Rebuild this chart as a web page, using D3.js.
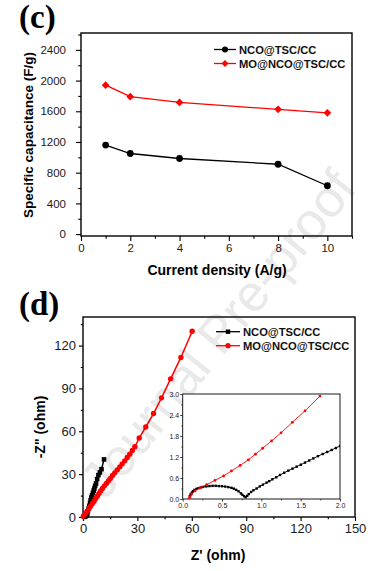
<!DOCTYPE html>
<html><head><meta charset="utf-8">
<script src="https://cdn.jsdelivr.net/npm/d3@7"></script>
<style>html,body{margin:0;padding:0;background:#fff;}svg{display:block;}</style>
</head><body>
<script>
// ---- Panel (c) data ----
const densities = [1, 2, 4, 8, 10];
const ncoCap = [1160, 1050, 985, 910, 630];
const moCap = [1940, 1790, 1715, 1625, 1580];
const cXTicks = [0, 2, 4, 6, 8, 10];
const cYTicks = [0, 400, 800, 1200, 1600, 2000, 2400];
const seriesNames = ["NCO@TSC/CC", "MO@NCO@TSC/CC"];

// ---- Panel (d) main Nyquist data ----
const ncoZre = [0.9,1.3,1.7,2.0,2.4,2.7,3.1,3.5,3.9,4.2,4.6,5.0,5.5,5.9,6.3,6.7,7.2,7.8,8.5,9.3,10.2,11.6];
const ncoZim = [0.1,0.4,0.9,1.5,2.4,4.0,5.9,7.8,9.8,11.7,13.6,15.2,16.9,18.5,20,21.8,23.5,26.5,29.3,31.2,33.5,40.3];
const moZre = [0.2,0.7,1.5,2.4,3.3,4.2,5.2,6.1,7.0,7.9,8.8,9.7,10.7,11.8,12.9,14.0,15.1,16.3,17.5,18.9,20.3,21.6,23.0,24.4,25.8,27.2,28.6,31.0,34.6,38.9,43.3,48.3,54.0,60.2];
const moZim = [0.5,1.5,2.8,4.3,5.9,7.6,9.4,11.1,12.9,14.6,16.4,18.2,20.0,21.8,23.5,25.2,27.0,29.0,30.9,33.0,35.1,37.2,39.3,41.6,44.0,46.6,49.2,55.3,63.0,72.4,83.4,96.7,111.7,130];
const dXTicks = [0, 30, 60, 90, 120, 150];
const dYTicks = [0, 30, 60, 90, 120];

// ---- Panel (d) inset data ----
const ncoInRe = [0.08,0.09,0.10,0.115,0.13,0.15,0.175,0.2,0.23,0.26,0.3,0.34,0.38,0.42,0.46,0.5,0.54,0.58,0.62,0.65,0.68,0.71,0.74,0.76,0.78,0.80,0.82,0.84,0.87,0.9,0.94,0.98,1.02,1.066,1.1,1.14,1.19,1.237,1.29,1.343,1.396,1.449,1.502,1.555,1.608,1.661,1.72,1.78,1.837,1.894,1.947,2.0];
const ncoInIm = [0.0,0.08,0.13,0.18,0.22,0.26,0.29,0.31,0.33,0.345,0.36,0.37,0.375,0.375,0.37,0.365,0.355,0.34,0.32,0.295,0.26,0.22,0.16,0.12,0.08,0.05,0.09,0.14,0.2,0.25,0.3,0.36,0.41,0.467,0.51,0.562,0.62,0.686,0.75,0.81,0.867,0.924,0.98,1.04,1.1,1.16,1.223,1.286,1.343,1.40,1.457,1.514];
const moInRe = [0.08,0.093,0.114,0.156,0.22,0.305,0.41,0.52,0.62,0.73,0.835,0.925,1.017,1.13,1.25,1.394,1.555,1.745];
const moInIm = [0.0,0.06,0.14,0.23,0.32,0.41,0.53,0.66,0.80,0.96,1.12,1.28,1.45,1.66,1.89,2.19,2.52,2.94];
const inXTicks = [0, 0.5, 1.0, 1.5, 2.0];
const inYTicks = [0, 0.6, 1.2, 1.8, 2.4, 3.0];

const W = 382, H = 571;
const svg = d3.select("body").append("svg").attr("width", W).attr("height", H);
const RED = "#ff0000", BLK = "#000000";
const SANS = "Arial, 'Liberation Sans', sans-serif";

// watermark
svg.append("text").attr("transform", "translate(232,345) rotate(-51)")
  .attr("text-anchor", "middle").attr("font-family", SANS).attr("font-size", 52)
  .attr("fill", "#e9e9e9").text("Journal Pre-proof");

function axes(g, x, y, o) {
  const [x0, x1] = x.range(), [y0, y1] = y.range();
  const bx = d3.axisBottom(x).tickValues(o.xt).tickSize(o.tl).tickPadding(o.xpad).tickSizeOuter(0).tickFormat(o.xf || d3.format("d"));
  const bxm = d3.axisBottom(x).tickValues(o.xm).tickSize(o.tl * 0.55).tickFormat("").tickSizeOuter(0);
  const ly = d3.axisLeft(y).tickValues(o.yt).tickSize(o.tl).tickPadding(o.ypad).tickSizeOuter(0).tickFormat(o.yf || d3.format("d"));
  const lym = d3.axisLeft(y).tickValues(o.ym).tickSize(o.tl * 0.55).tickFormat("").tickSizeOuter(0);
  [[bx, "b"], [bxm, "b"]].forEach(([a]) => {
    const ga = g.append("g").attr("transform", `translate(0,${y0})`).call(a);
    style(ga, o);
  });
  [[ly], [lym]].forEach(([a]) => {
    const ga = g.append("g").attr("transform", `translate(${x0},0)`).call(a);
    style(ga, o);
  });
  g.append("rect").attr("x", x0).attr("y", y1).attr("width", x1 - x0).attr("height", y0 - y1)
    .attr("fill", "none").attr("stroke", "#000").attr("stroke-width", o.sw);
}
function style(ga, o) {
  ga.select(".domain").remove();
  ga.selectAll("line").attr("stroke", "#000").attr("stroke-width", o.sw * 0.8);
  ga.selectAll("text").attr("font-family", SANS).attr("font-size", o.fs).attr("fill", "#1a1a1a");
}

// ===== Panel (c) =====
const xc = d3.scaleLinear().domain([0, 11]).range([81, 352]);
const yc = d3.scaleLinear().domain([-25, 2620]).range([236, 33]);
const gc = svg.append("g");
axes(gc, xc, yc, { xt: cXTicks, xm: [1, 3, 5, 7, 9, 11], yt: cYTicks, ym: [200, 600, 1000, 1400, 1800, 2200, 2600].filter(v => v < 2620),
  tl: 5, xpad: 3, ypad: 10, fs: 11.5, sw: 1.4 });
const lineC = d3.line().x(d => xc(d[0])).y(d => yc(d[1]));
const ncoPts = densities.map((d, i) => [d, ncoCap[i]]);
const moPts = densities.map((d, i) => [d, moCap[i]]);
gc.append("path").attr("d", lineC(ncoPts)).attr("fill", "none").attr("stroke", BLK).attr("stroke-width", 1.3);
gc.append("path").attr("d", lineC(moPts)).attr("fill", "none").attr("stroke", RED).attr("stroke-width", 1.3);
gc.selectAll(".cn").data(ncoPts).join("circle").attr("cx", d => xc(d[0])).attr("cy", d => yc(d[1])).attr("r", 3.4).attr("fill", BLK);
const diamond = d3.symbol(d3.symbolSquare, 30);
gc.selectAll(".cm").data(moPts).join("path").attr("d", diamond)
  .attr("transform", d => `translate(${xc(d[0])},${yc(d[1])}) rotate(45)`).attr("fill", RED);
// legend c
[[BLK, "c"], [RED, "d"]].forEach(([col, m], i) => {
  const yy = 49.5 + i * 14;
  gc.append("line").attr("x1", 214).attr("x2", 236).attr("y1", yy).attr("y2", yy).attr("stroke", col).attr("stroke-width", 1.3);
  if (m === "c") gc.append("circle").attr("cx", 225).attr("cy", yy).attr("r", 3).attr("fill", col);
  else gc.append("path").attr("d", d3.symbol(d3.symbolSquare, 24)).attr("transform", `translate(225,${yy}) rotate(45)`).attr("fill", col);
  gc.append("text").attr("x", 239).attr("y", yy).attr("dy", "0.36em").attr("font-family", SANS).attr("font-weight", "bold")
    .attr("font-size", 11.2).attr("fill", "#111").text(seriesNames[i]);
});
gc.append("text").attr("transform", "translate(33,135) rotate(-90)").attr("text-anchor", "middle")
  .attr("font-family", SANS).attr("font-weight", "bold").attr("font-size", 13.5).text("Specific capacitance (F/g)");
gc.append("text").attr("x", 217).attr("y", 275).attr("text-anchor", "middle")
  .attr("font-family", SANS).attr("font-weight", "bold").attr("font-size", 14).text("Current density (A/g)");
svg.append("text").attr("x", 19).attr("y", 28).attr("font-family", "'Times New Roman','Liberation Serif',serif")
  .attr("font-weight", "bold").attr("font-size", 33).text("(c)");

// ===== Panel (d) =====
const xd = d3.scaleLinear().domain([0, 150]).range([83, 355]);
const yd = d3.scaleLinear().domain([0, 140]).range([517, 317]);
const gd = svg.append("g");
axes(gd, xd, yd, { xt: dXTicks, xm: [15, 45, 75, 105, 135], yt: dYTicks, ym: [15, 45, 75, 105, 135],
  tl: 4, xpad: 3, ypad: 3, fs: 13, sw: 1.4 });
const lineD = d3.line().x(d => xd(d[0])).y(d => yd(d[1]));
const ncoD = ncoZre.map((v, i) => [v, ncoZim[i]]);
const moD = moZre.map((v, i) => [v, moZim[i]]);
gd.append("path").attr("d", lineD(ncoD)).attr("fill", "none").attr("stroke", BLK).attr("stroke-width", 1.5);
gd.selectAll(".dn").data(ncoD).join("rect").attr("x", d => xd(d[0]) - 2.3).attr("y", d => yd(d[1]) - 2.3)
  .attr("width", 4.6).attr("height", 4.6).attr("fill", BLK);
gd.append("path").attr("d", lineD(moD)).attr("fill", "none").attr("stroke", RED).attr("stroke-width", 1.5);
gd.selectAll(".dm").data(moD).join("circle").attr("cx", d => xd(d[0])).attr("cy", d => yd(d[1])).attr("r", 2.7).attr("fill", RED);
// legend d
[[BLK, "s"], [RED, "c"]].forEach(([col, m], i) => {
  const yy = 331.7 + i * 14;
  gd.append("line").attr("x1", 216).attr("x2", 240).attr("y1", yy).attr("y2", yy).attr("stroke", col).attr("stroke-width", 1.3);
  if (m === "s") gd.append("rect").attr("x", 225.8).attr("y", yy - 2.2).attr("width", 4.4).attr("height", 4.4).attr("fill", col);
  else gd.append("circle").attr("cx", 228).attr("cy", yy).attr("r", 2.6).attr("fill", col);
  gd.append("text").attr("x", 243).attr("y", yy).attr("dy", "0.36em").attr("font-family", SANS).attr("font-weight", "bold")
    .attr("font-size", 11.2).attr("fill", "#111").text(seriesNames[i]);
});
gd.append("text").attr("transform", "translate(45,427) rotate(-90)").attr("text-anchor", "middle")
  .attr("font-family", SANS).attr("font-weight", "bold").attr("font-size", 14).text('-Z" (ohm)');
gd.append("text").attr("x", 218).attr("y", 560).attr("text-anchor", "middle")
  .attr("font-family", SANS).attr("font-weight", "bold").attr("font-size", 14).text("Z' (ohm)");
svg.append("text").attr("x", 19).attr("y", 315).attr("font-family", "'Times New Roman','Liberation Serif',serif")
  .attr("font-weight", "bold").attr("font-size", 33).text("(d)");

// ===== Inset =====
const xi = d3.scaleLinear().domain([0, 2]).range([182.7, 340]);
const yi = d3.scaleLinear().domain([0, 3]).range([499, 394]);
const gi = svg.append("g");
gi.append("rect").attr("x", 182.7).attr("y", 394).attr("width", 340 - 182.7).attr("height", 105).attr("fill", "#fff");
axes(gi, xi, yi, { xt: inXTicks, xm: [0.25, 0.75, 1.25, 1.75], yt: inYTicks, ym: [0.3, 0.9, 1.5, 2.1, 2.7],
  tl: 2.5, xpad: 1.5, ypad: 1, fs: 7, sw: 0.9, xf: d3.format(".1f"), yf: d3.format(".1f") });
svg.append("clipPath").attr("id", "inclip").append("rect").attr("x", 182.7).attr("y", 394).attr("width", 340 - 182.7).attr("height", 105);
const gic = gi.append("g").attr("clip-path", "url(#inclip)");
const lineI = d3.line().x(d => xi(d[0])).y(d => yi(d[1]));
const ncoI = ncoInRe.map((v, i) => [v, ncoInIm[i]]);
const moI = moInRe.map((v, i) => [v, moInIm[i]]);
gic.append("path").attr("d", lineI(ncoI)).attr("fill", "none").attr("stroke", BLK).attr("stroke-width", 0.9);
gic.selectAll(".in").data(ncoI).join("rect").attr("x", d => xi(d[0]) - 1.2).attr("y", d => yi(d[1]) - 1.2)
  .attr("width", 2.4).attr("height", 2.4).attr("fill", BLK);
gic.append("path").attr("d", lineI(moI)).attr("fill", "none").attr("stroke", RED).attr("stroke-width", 0.9);
gic.selectAll(".im").data(moI).join("circle").attr("cx", d => xi(d[0])).attr("cy", d => yi(d[1])).attr("r", 1.4).attr("fill", RED);
</script>
</body></html>
